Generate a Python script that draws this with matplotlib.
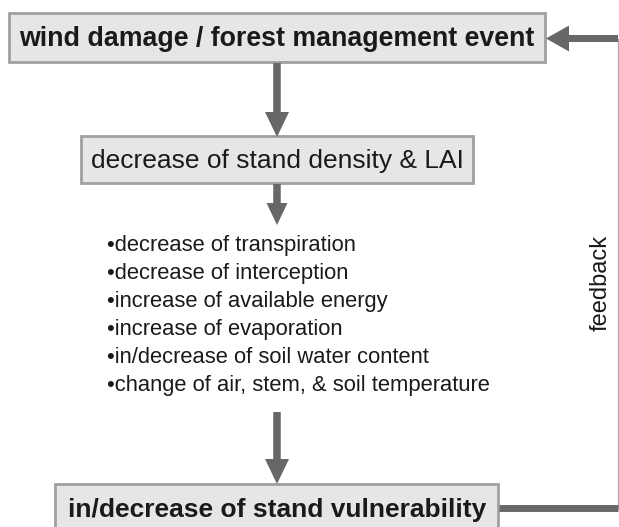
import matplotlib
matplotlib.use("Agg")
import matplotlib.pyplot as plt
from matplotlib.patches import Rectangle, FancyArrow

plt.rcParams['font.family'] = ['Liberation Sans', 'DejaVu Sans']

top_label = "wind damage / forest management event"
mid_label = "decrease of stand density & LAI"
bullets = [
    "\u2022decrease of transpiration",
    "\u2022decrease of interception",
    "\u2022increase of available energy",
    "\u2022increase of evaporation",
    "\u2022in/decrease of soil water content",
    "\u2022change of air, stem, & soil temperature",
]
bottom_label = "in/decrease of stand vulnerability"
feedback_label = "feedback"

ARROW = "#676767"
BOX_FILL = "#e6e6e6"
BOX_EDGE = "#a0a0a0"
TXT = "#1a1a1a"

fig = plt.figure(figsize=(6.19, 5.27), dpi=100)
ax = fig.add_axes([0, 0, 1, 1])
ax.set_xlim(0, 619)
ax.set_ylim(527, 0)
ax.axis('off')

def box(x0, y0, x1, y1):
    ax.add_patch(Rectangle((x0, y0), x1 - x0, y1 - y0, facecolor=BOX_FILL,
                           edgecolor=BOX_EDGE, linewidth=2.0, zorder=2))

def down_arrow(x, y0, y1, hl=25, hw=24):
    ax.add_patch(FancyArrow(x, y0, 0, y1 - y0, width=7.5, head_width=hw,
                            head_length=hl, length_includes_head=True,
                            color=ARROW, linewidth=0, zorder=3))

# boxes
box(9, 13, 545, 62)
box(81, 136, 473, 183)
box(55, 484, 498, 540)

ax.text(277, 46, top_label, ha='center', va='baseline', fontsize=19.3,
        fontweight='bold', color=TXT, zorder=4)
ax.text(277, 168, mid_label, ha='center', va='baseline', fontsize=19,
        color=TXT, zorder=4)
ax.text(277, 517, bottom_label, ha='center', va='baseline', fontsize=19,
        fontweight='bold', color=TXT, zorder=4)

for i, b in enumerate(bullets):
    ax.text(107, 251 + i * 28, b, ha='left', va='baseline', fontsize=15.8,
            color=TXT, zorder=4)

# vertical arrows
down_arrow(277, 63, 137)
down_arrow(277, 184, 225, hl=22, hw=21)
down_arrow(277, 412, 484)

# feedback loop
ax.plot([499, 618], [508, 508], color=ARROW, linewidth=5, solid_capstyle='butt', zorder=3)
ax.plot([618, 618], [508, 38.5], color="#a8a8a8", linewidth=0.9, zorder=2)
ax.add_patch(FancyArrow(618, 38.5, 546 - 618, 0, width=7, head_width=26,
                        head_length=23, length_includes_head=True,
                        color=ARROW, linewidth=0, zorder=3))
ax.text(601, 283, feedback_label, ha='center', va='center', rotation=90,
        fontsize=17, color=TXT, zorder=4)

fig.savefig("out.png", dpi=100)
